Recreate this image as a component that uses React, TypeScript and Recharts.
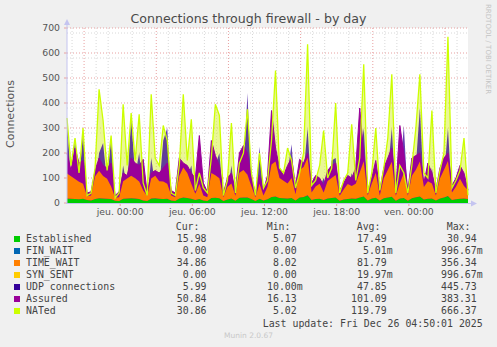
import { ComposedChart, Area, Line, XAxis, YAxis, CartesianGrid } from 'recharts';

// hours relative to jeu. 00:00, one sample every 20 minutes
const START_HOUR = -4.42;
const STEP_HOUR = 1 / 3;

const established = [
  18, 17, 16, 15, 17, 12, 10, 16, 19, 18, 17, 16, 9, 8, 17, 18, 19, 18, 16, 10,
  8, 18, 19, 17, 16, 17, 10, 8, 18, 22, 20, 17, 12, 16,
  10, 8, 20, 21, 19, 8, 14, 18, 9, 21, 22, 22, 16, 8, 17, 10, 15, 24, 26, 20,
  19, 18, 20, 10, 22, 24, 30, 12, 16, 17, 12, 18, 20, 22,
  9, 14, 16, 18, 17, 22, 26, 10, 18, 21, 10, 19, 22, 25, 9, 18, 20, 9, 19, 23,
  26, 14, 17, 18, 10, 18, 22, 28, 12, 15, 17, 18, 16,
];
const finWait = [
  0, 0, 0, 0, 0, 0, 0, 0, 0, 0, 0, 0, 0, 0, 0, 0, 0, 0, 0, 0, 0, 0, 0, 0, 0,
  0, 0, 0, 0, 0, 0, 0, 0, 0, 0, 0, 0, 0, 0, 0, 0, 0, 0, 0, 0, 0, 0, 0, 0, 0,
  0, 0, 0, 0, 0, 0, 0, 0, 0, 0, 1, 0, 0, 0, 0, 0, 0, 0, 0, 0, 0, 0, 0, 0, 0,
  0, 0, 0, 0, 0, 0, 0, 0, 0, 0, 0, 0, 0, 0, 0, 0, 0, 0, 0, 0, 0, 0, 0, 0, 0, 0,
];
const timeWait = [
  100, 90, 80, 70, 60, 15, 20, 90, 110, 90, 80, 50, 12, 15, 70, 80, 90, 80, 70, 40,
  20, 80, 90, 70, 70, 60, 20, 15, 90, 120, 100, 60, 25, 60,
  20, 15, 100, 90, 80, 15, 50, 60, 20, 100, 110, 90, 50, 15, 60, 20, 50, 130, 140, 80,
  70, 60, 80, 25, 110, 120, 150, 30, 50, 60, 30, 70, 80, 90,
  20, 40, 60, 50, 60, 100, 140, 20, 60, 100, 20, 80, 110, 140, 20, 60, 100, 20, 90, 110,
  140, 50, 70, 60, 20, 80, 110, 140, 30, 50, 80, 50, 35,
];
const synSent = [
  0, 0, 0, 0, 0, 0, 0, 0, 0, 0, 0, 0, 0, 0, 0, 0, 0, 1, 0, 0, 0, 0, 0, 0, 0,
  0, 0, 0, 0, 0, 0, 0, 0, 0, 0, 0, 0, 0, 0, 0, 0, 0, 0, 0, 0, 1, 0, 0, 0, 0,
  0, 0, 0, 0, 0, 0, 0, 0, 0, 0, 0, 0, 0, 0, 0, 0, 0, 0, 0, 0, 0, 0, 0, 0, 1,
  0, 0, 0, 0, 0, 0, 0, 0, 0, 0, 0, 0, 0, 0, 0, 0, 0, 0, 0, 0, 0, 0, 0, 0, 0, 0,
];
const udp = [
  320, 90, 250, 80, 280, 10, 15, 60, 200, 240, 80, 260, 10, 15, 150, 60, 340, 110, 200, 40,
  10, 180, 70, 60, 250, 300, 15, 10, 60, 150, 100, 150, 20, 90,
  20, 10, 100, 150, 200, 10, 30, 150, 15, 70, 110, 440, 60, 10, 225, 20, 30, 180, 200, 60,
  50, 120, 235, 20, 60, 120, 300, 25, 40, 60, 100, 50, 170, 180,
  15, 30, 40, 120, 40, 150, 300, 15, 40, 130, 15, 60, 120, 300, 15, 100, 310, 15, 80, 150,
  380, 40, 50, 140, 15, 50, 100, 300, 20, 30, 80, 100, 6,
];
const assured = [
  200, 130, 220, 160, 170, 40, 45, 130, 180, 150, 140, 160, 30, 45, 120, 110, 180, 160, 150, 175,
  40, 120, 130, 120, 140, 160, 50, 40, 180, 160, 150, 120, 100, 270,
  80, 45, 250, 190, 150, 40, 100, 120, 50, 200, 230, 200, 100, 40, 110, 50, 110, 370, 220, 140,
  110, 150, 180, 70, 175, 160, 200, 80, 110, 100, 70, 130, 150, 160,
  50, 80, 110, 100, 140, 380, 200, 50, 100, 170, 50, 140, 180, 220, 50, 310, 200, 50, 180, 190,
  200, 80, 160, 120, 50, 140, 180, 200, 70, 100, 150, 120, 51,
];
const nated = [
  340, 150, 260, 120, 300, 30, 40, 140, 455, 330, 130, 270, 20, 40, 395, 150, 360, 170, 355, 80,
  30, 435, 180, 150, 310, 250, 40, 30, 150, 435, 170, 335, 50, 120,
  60, 40, 180, 395, 350, 30, 90, 320, 40, 160, 200, 375, 120, 30, 200, 60, 90, 250, 530, 140,
  120, 220, 170, 60, 120, 200, 635, 70, 90, 150, 290, 100, 140, 400,
  40, 90, 120, 315, 90, 180, 555, 40, 120, 300, 50, 140, 260, 515, 40, 150, 120, 40, 150, 300,
  515, 120, 100, 370, 40, 130, 200, 665, 60, 90, 130, 260, 31,
];

const yTicks = [0, 100, 200, 300, 400, 500, 600, 700];
const xTicks = [0, 6, 12, 18, 24];
const xTickLabels = ['jeu. 00:00', 'jeu. 06:00', 'jeu. 12:00', 'jeu. 18:00', 'ven. 00:00'];

const minorY = [20, 40, 60, 80, 120, 140, 160, 180, 220, 240, 260, 280, 320, 340, 360, 380, 420, 440, 460, 480, 520, 540, 560, 580, 620, 640, 660, 680];
const majorY = [100, 200, 300, 400, 500, 600, 700];
const minorX = [-4, -2, -1, 1, 2, 4, 5, 7, 8, 10, 11, 13, 14, 16, 17, 19, 20, 22, 23, 25, 26, 28];
const majorX = [-3, 0, 3, 6, 9, 12, 15, 18, 21, 24, 27];

const legendNames = ['Established', 'FIN_WAIT', 'TIME_WAIT', 'SYN_SENT', 'UDP connections', 'Assured', 'NATed'];
const legendColors = ['#00cc00', '#0066b3', '#ff8000', '#ffcc00', '#330099', '#990099', '#ccff00'];
const curValues = ['15.98 ', '0.00 ', '34.86 ', '0.00 ', '5.99 ', '50.84 ', '30.86 '];
const minValues = ['5.07 ', '0.00 ', '8.02 ', '0.00 ', '10.00m', '16.13 ', '5.02 '];
const avgValues = ['17.49 ', '5.01m', '81.79 ', '19.97m', '47.85 ', '101.09 ', '119.79 '];
const maxValues = ['30.94 ', '996.67m', '356.34 ', '996.67m', '445.73 ', '383.31 ', '666.37 '];

const MONO = '"DejaVu Sans Mono", monospace';
const SANS = '"DejaVu Sans", sans-serif';
const AXIS = '#c4c4f0';

export default function App() {
  const data = nated.map((_, i) => ({
    t: START_HOUR + i * STEP_HOUR,
    established: established[i],
    finWait: finWait[i],
    timeWait: timeWait[i],
    synSent: synSent[i],
    udp: udp[i],
    assured: assured[i],
    nated: nated[i],
  }));

  const cols = [
    { right: 212.5, values: curValues, head: 'Cur:', headLeft: 175.7 },
    { right: 302.7, values: minValues, head: 'Min:', headLeft: 266.7 },
    { right: 392.7, values: avgValues, head: 'Avg:', headLeft: 356.7 },
    { right: 482.7, values: maxValues, head: 'Max:', headLeft: 446.7 },
  ];

  return (
    <div
      style={{
        position: 'absolute',
        left: 0,
        top: 0,
        width: 497,
        height: 347,
        background: '#f0f0f0',
        overflow: 'hidden',
        fontFamily: SANS,
      }}
    >
      <div
        style={{
          position: 'absolute',
          left: 0,
          width: 497,
          top: 11,
          textAlign: 'center',
          fontSize: 12.6,
          lineHeight: '16px',
          color: '#4a4a4a',
          paddingRight: 4,
        }}
      >
        Connections through firewall - by day
      </div>
      <div
        style={{
          position: 'absolute',
          left: 10,
          top: 114,
          transform: 'translate(-50%, -50%) rotate(-90deg)',
          fontSize: 11,
          color: '#555',
          whiteSpace: 'nowrap',
        }}
      >
        Connections
      </div>
      <div
        style={{
          position: 'absolute',
          left: 484,
          top: 4,
          writingMode: 'vertical-rl',
          fontSize: 7,
          color: '#c4c4c4',
          whiteSpace: 'nowrap',
        }}
      >
        RRDTOOL / TOBI OETIKER
      </div>

      <div style={{ position: 'absolute', left: 0, top: 0 }}>
        <ComposedChart width={497} height={220} data={data} margin={{ top: 28, right: 29, bottom: 0, left: 7 }}>
          <CartesianGrid
            fill="#ffffff"
            fillOpacity={1}
            stroke="#d8d8d8"
            strokeDasharray="1 2"
            horizontalValues={minorY}
            verticalValues={minorX}
          />
          <CartesianGrid
            stroke="#e8a0a0"
            strokeDasharray="1 2"
            horizontalValues={majorY}
            verticalValues={majorX}
          />
          <XAxis
            type="number"
            dataKey="t"
            domain={['dataMin', 'dataMax']}
            ticks={xTicks}
            tickFormatter={(v: number) => xTickLabels[xTicks.indexOf(v)] ?? ''}
            axisLine={false}
            tickLine={{ stroke: '#e8a0a0' }}
            tickSize={3}
            tickMargin={2}
            height={17}
            tick={{ fontSize: 9.3, fill: '#555', fontFamily: SANS }}
          />
          <YAxis
            domain={[0, 700]}
            ticks={yTicks}
            axisLine={false}
            tickLine={{ stroke: '#e8a0a0' }}
            tickSize={3}
            tickMargin={4}
            width={60}
            tick={{ fontSize: 9.3, fill: '#555', fontFamily: SANS }}
            allowDataOverflow
          />
          <Area type="linear" dataKey="nated" fill="#d8f040" fillOpacity={0.55} stroke="none" isAnimationActive={false} dot={false} activeDot={false} />
          <Area type="linear" dataKey="udp" fill="#330099" fillOpacity={0.75} stroke="none" isAnimationActive={false} dot={false} activeDot={false} />
          <Area type="linear" dataKey="assured" fill="#990099" fillOpacity={1} stroke="#990099" strokeWidth={1} isAnimationActive={false} dot={false} activeDot={false} />
          <Area type="linear" dataKey="established" stackId="s" fill="#00cc00" fillOpacity={1} stroke="none" isAnimationActive={false} dot={false} activeDot={false} />
          <Area type="linear" dataKey="finWait" stackId="s" fill="#0066b3" fillOpacity={1} stroke="none" isAnimationActive={false} dot={false} activeDot={false} />
          <Area type="linear" dataKey="timeWait" stackId="s" fill="#ff8000" fillOpacity={1} stroke="none" isAnimationActive={false} dot={false} activeDot={false} />
          <Area type="linear" dataKey="synSent" stackId="s" fill="#ffcc00" fillOpacity={1} stroke="none" isAnimationActive={false} dot={false} activeDot={false} />
          <Line type="linear" dataKey="nated" stroke="#ccff00" strokeWidth={1.3} isAnimationActive={false} dot={false} activeDot={false} />
        </ComposedChart>
      </div>

      <svg width={497} height={347} style={{ position: 'absolute', left: 0, top: 0, pointerEvents: 'none' }}>
        <line x1={67} y1={203.5} x2={67} y2={24} stroke={AXIS} strokeWidth={1} />
        <polygon points="64,25 70,25 67,19" fill={AXIS} />
        <line x1={66} y1={203.5} x2={472} y2={203.5} stroke={AXIS} strokeWidth={1} />
        <polygon points="471,200.5 471,206.5 477,203.5" fill={AXIS} />
      </svg>

      {cols.map((c) => (
        <div
          key={c.head}
          style={{
            position: 'absolute',
            left: c.headLeft,
            top: 221,
            fontFamily: MONO,
            fontSize: 9.9,
            lineHeight: '12px',
            color: '#444',
            whiteSpace: 'pre',
          }}
        >
          {c.head}
        </div>
      ))}

      {legendNames.map((name, i) => (
        <div key={name}>
          <div
            style={{
              position: 'absolute',
              left: 14,
              top: 236.3 + i * 12,
              width: 6,
              height: 6,
              background: legendColors[i],
            }}
          />
          <div
            style={{
              position: 'absolute',
              left: 26,
              top: 233.3 + i * 12,
              fontFamily: MONO,
              fontSize: 9.9,
              lineHeight: '12px',
              color: '#444',
              whiteSpace: 'pre',
            }}
          >
            {name}
          </div>
          {cols.map((c) => (
            <div
              key={c.head}
              style={{
                position: 'absolute',
                right: 497 - c.right,
                top: 233.3 + i * 12,
                fontFamily: MONO,
                fontSize: 9.9,
                lineHeight: '12px',
                color: '#444',
                whiteSpace: 'pre',
                textAlign: 'right',
              }}
            >
              {c.values[i]}
            </div>
          ))}
        </div>
      ))}

      <div
        style={{
          position: 'absolute',
          right: 497 - 482.7,
          top: 317.7,
          fontFamily: MONO,
          fontSize: 9.9,
          lineHeight: '12px',
          color: '#444',
          whiteSpace: 'pre',
        }}
      >
        Last update: Fri Dec 26 04:50:01 2025
      </div>
      <div
        style={{
          position: 'absolute',
          left: 0,
          width: 497,
          top: 330,
          textAlign: 'center',
          fontSize: 7.5,
          lineHeight: '12px',
          color: '#c8c8c8',
        }}
      >
        Munin 2.0.67
      </div>
    </div>
  );
}
